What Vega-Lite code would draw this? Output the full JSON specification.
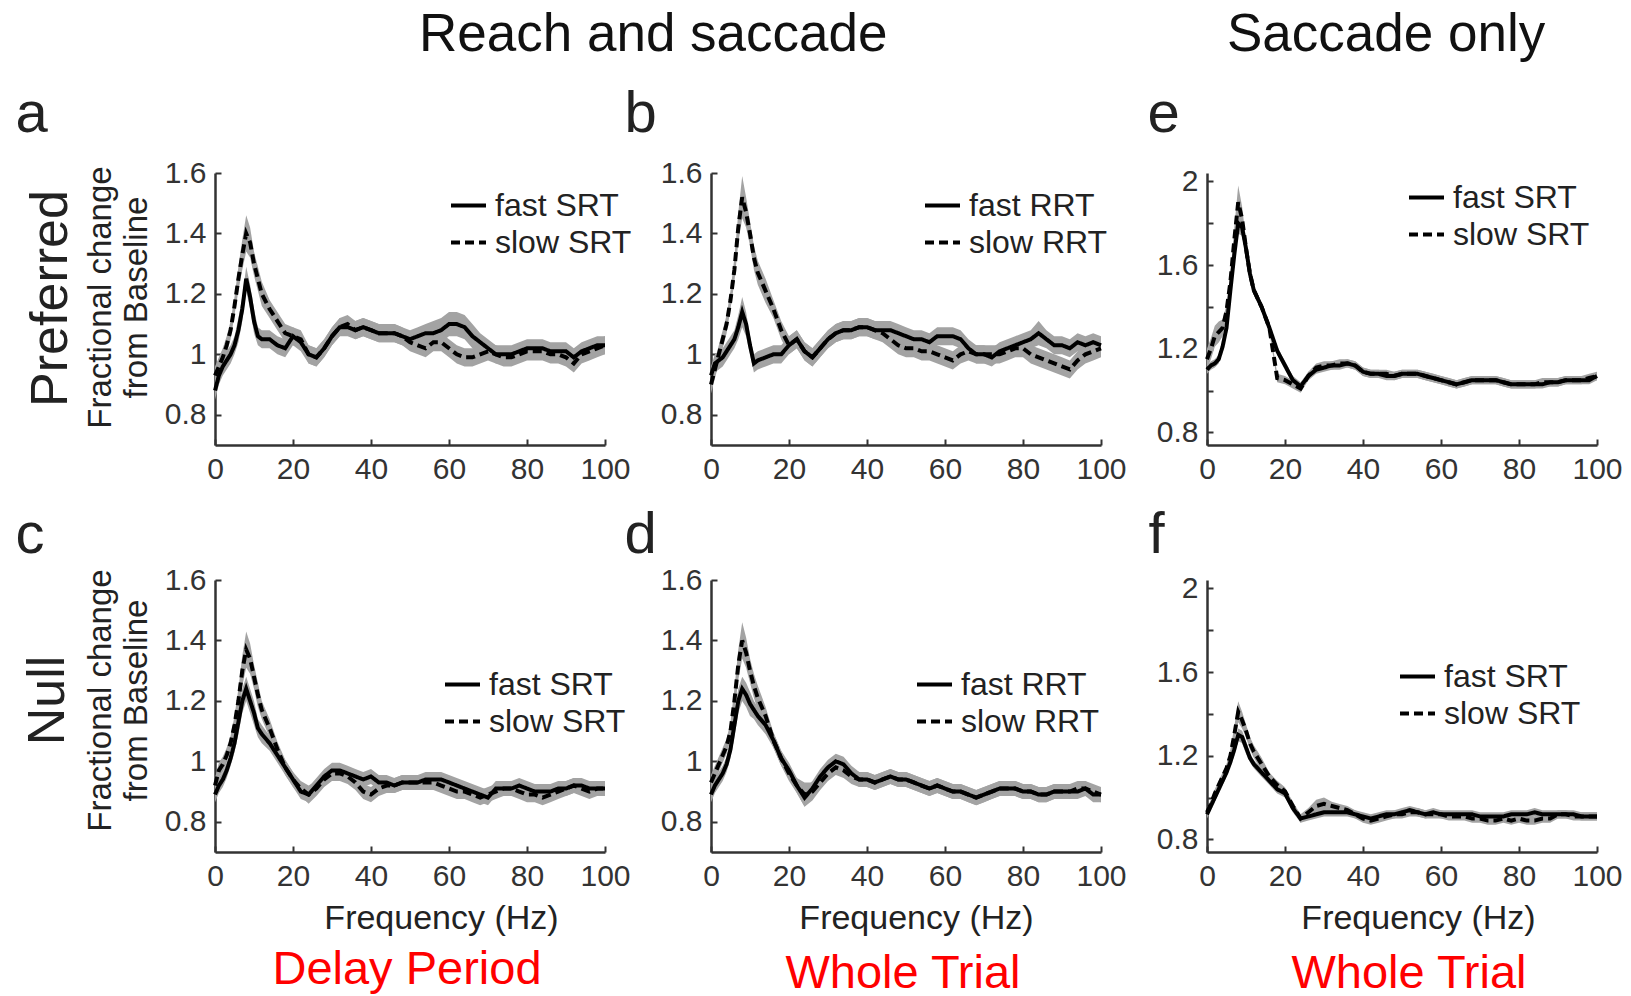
{
"$schema": "https://vega.github.io/schema/vega-lite/v6.json",
"background": "white",
"padding": {"left": 15, "top": 9, "right": 5, "bottom": 0},
"bounds": "flush",
"columns": 3,
"spacing": {"row": 135, "column": 106},
"resolve": {"scale": {"strokeDash": "independent"}},
"config": {
  "font": "Liberation Sans",
  "view": {"stroke": null},
  "axis": {"grid": false, "labelFont": "Liberation Sans", "labelFontSize": 30, "labelColor": "#333", "domainColor": "#333", "domainWidth": 2.5, "tickColor": "#333", "tickWidth": 2, "tickSize": -6, "labelPadding": 15, "titleFont": "Liberation Sans", "titleFontWeight": "normal", "titleColor": "#222", "labelFlush": false, "labelOverlap": false},
  "title": {"font": "Liberation Sans", "fontWeight": "normal", "color": "#111"},
  "legend": {"labelFont": "Liberation Sans", "labelFontSize": 32, "labelColor": "#222", "symbolType": "stroke", "symbolSize": 1225, "symbolStrokeWidth": 4, "symbolStrokeColor": "black", "labelOffset": 7, "rowPadding": 1, "padding": 0}
},
"datasets": {
"a": [
{"f":0,"F":0.88,"S":0.93,"eF":0.03,"eS":0.03},{"f":1,"F":0.93,"S":0.96,"eF":0.03,"eS":0.03},{"f":2,"F":0.96,"S":0.99,"eF":0.03,"eS":0.03},{"f":3,"F":0.98,"S":1.03,"eF":0.03,"eS":0.03},{"f":4,"F":1.00,"S":1.08,"eF":0.03,"eS":0.03},{"f":5,"F":1.03,"S":1.16,"eF":0.03,"eS":0.03},{"f":6,"F":1.08,"S":1.25,"eF":0.04,"eS":0.04},{"f":7,"F":1.15,"S":1.33,"eF":0.04,"eS":0.05},{"f":8,"F":1.25,"S":1.40,"eF":0.04,"eS":0.06},{"f":9,"F":1.19,"S":1.37,"eF":0.04,"eS":0.05},{"f":10,"F":1.11,"S":1.30,"eF":0.04,"eS":0.04},{"f":11,"F":1.06,"S":1.25,"eF":0.03,"eS":0.04},{"f":12,"F":1.05,"S":1.20,"eF":0.03,"eS":0.04},
{"f":14,"F":1.05,"S":1.15,"eF":0.03,"eS":0.03},{"f":16,"F":1.03,"S":1.11,"eF":0.03,"eS":0.03},{"f":18,"F":1.02,"S":1.07,"eF":0.03,"eS":0.03},{"f":20,"F":1.06,"S":1.06,"eF":0.03,"eS":0.03},{"f":22,"F":1.04,"S":1.05,"eF":0.03,"eS":0.03},{"f":24,"F":1.00,"S":1.00,"eF":0.03,"eS":0.03},{"f":26,"F":0.99,"S":0.99,"eF":0.03,"eS":0.03},{"f":28,"F":1.02,"S":1.02,"eF":0.03,"eS":0.03},{"f":30,"F":1.06,"S":1.06,"eF":0.03,"eS":0.03},{"f":32,"F":1.09,"S":1.09,"eF":0.03,"eS":0.03},{"f":34,"F":1.09,"S":1.10,"eF":0.03,"eS":0.03},{"f":36,"F":1.08,"S":1.08,"eF":0.03,"eS":0.03},{"f":38,"F":1.09,"S":1.09,"eF":0.03,"eS":0.03},{"f":40,"F":1.08,"S":1.08,"eF":0.03,"eS":0.03},{"f":42,"F":1.07,"S":1.07,"eF":0.03,"eS":0.03},{"f":44,"F":1.07,"S":1.07,"eF":0.03,"eS":0.03},{"f":46,"F":1.07,"S":1.07,"eF":0.03,"eS":0.03},{"f":48,"F":1.06,"S":1.06,"eF":0.03,"eS":0.03},{"f":50,"F":1.05,"S":1.04,"eF":0.03,"eS":0.03},{"f":52,"F":1.06,"S":1.03,"eF":0.03,"eS":0.03},{"f":54,"F":1.07,"S":1.02,"eF":0.03,"eS":0.03},{"f":56,"F":1.07,"S":1.04,"eF":0.04,"eS":0.03},{"f":58,"F":1.08,"S":1.04,"eF":0.04,"eS":0.03},{"f":60,"F":1.10,"S":1.02,"eF":0.04,"eS":0.03},{"f":62,"F":1.10,"S":1.00,"eF":0.04,"eS":0.03},{"f":64,"F":1.09,"S":0.99,"eF":0.04,"eS":0.03},{"f":66,"F":1.06,"S":0.99,"eF":0.04,"eS":0.03},{"f":68,"F":1.04,"S":1.00,"eF":0.03,"eS":0.03},{"f":70,"F":1.02,"S":1.01,"eF":0.03,"eS":0.03},{"f":72,"F":1.00,"S":1.00,"eF":0.03,"eS":0.03},{"f":74,"F":1.00,"S":0.99,"eF":0.03,"eS":0.03},{"f":76,"F":1.00,"S":0.99,"eF":0.03,"eS":0.03},{"f":78,"F":1.01,"S":1.00,"eF":0.03,"eS":0.03},{"f":80,"F":1.02,"S":1.01,"eF":0.03,"eS":0.03},{"f":82,"F":1.02,"S":1.01,"eF":0.03,"eS":0.03},{"f":84,"F":1.02,"S":1.01,"eF":0.03,"eS":0.03},{"f":86,"F":1.01,"S":1.00,"eF":0.03,"eS":0.03},{"f":88,"F":1.01,"S":1.00,"eF":0.03,"eS":0.03},{"f":90,"F":1.01,"S":0.99,"eF":0.03,"eS":0.03},{"f":92,"F":0.99,"S":0.97,"eF":0.03,"eS":0.03},{"f":94,"F":1.01,"S":1.00,"eF":0.03,"eS":0.03},{"f":96,"F":1.02,"S":1.01,"eF":0.03,"eS":0.03},{"f":98,"F":1.03,"S":1.02,"eF":0.03,"eS":0.03},{"f":100,"F":1.03,"S":1.03,"eF":0.03,"eS":0.03}
],
"b": [
{"f":0,"F":0.93,"S":0.90,"eF":0.03,"eS":0.03},{"f":1,"F":0.97,"S":0.95,"eF":0.03,"eS":0.03},{"f":2,"F":0.98,"S":1.00,"eF":0.03,"eS":0.03},{"f":3,"F":0.99,"S":1.05,"eF":0.03,"eS":0.03},{"f":4,"F":1.01,"S":1.10,"eF":0.03,"eS":0.03},{"f":5,"F":1.03,"S":1.18,"eF":0.03,"eS":0.03},{"f":6,"F":1.05,"S":1.28,"eF":0.03,"eS":0.04},{"f":7,"F":1.09,"S":1.42,"eF":0.04,"eS":0.05},{"f":8,"F":1.14,"S":1.52,"eF":0.05,"eS":0.07},{"f":9,"F":1.10,"S":1.47,"eF":0.04,"eS":0.05},{"f":10,"F":1.03,"S":1.40,"eF":0.03,"eS":0.04},{"f":11,"F":0.97,"S":1.32,"eF":0.03,"eS":0.04},{"f":12,"F":0.98,"S":1.27,"eF":0.03,"eS":0.04},
{"f":14,"F":0.99,"S":1.21,"eF":0.03,"eS":0.04},{"f":16,"F":1.00,"S":1.15,"eF":0.03,"eS":0.03},{"f":18,"F":1.00,"S":1.08,"eF":0.03,"eS":0.03},{"f":20,"F":1.03,"S":1.03,"eF":0.03,"eS":0.03},{"f":22,"F":1.05,"S":1.05,"eF":0.03,"eS":0.03},{"f":24,"F":1.01,"S":1.01,"eF":0.03,"eS":0.03},{"f":26,"F":0.99,"S":0.99,"eF":0.03,"eS":0.03},{"f":28,"F":1.02,"S":1.02,"eF":0.03,"eS":0.03},{"f":30,"F":1.05,"S":1.05,"eF":0.03,"eS":0.03},{"f":32,"F":1.07,"S":1.07,"eF":0.03,"eS":0.03},{"f":34,"F":1.08,"S":1.08,"eF":0.03,"eS":0.03},{"f":36,"F":1.08,"S":1.08,"eF":0.03,"eS":0.03},{"f":38,"F":1.09,"S":1.09,"eF":0.03,"eS":0.03},{"f":40,"F":1.09,"S":1.09,"eF":0.03,"eS":0.03},{"f":42,"F":1.08,"S":1.08,"eF":0.03,"eS":0.03},{"f":44,"F":1.08,"S":1.07,"eF":0.03,"eS":0.03},{"f":46,"F":1.08,"S":1.05,"eF":0.03,"eS":0.03},{"f":48,"F":1.07,"S":1.03,"eF":0.03,"eS":0.03},{"f":50,"F":1.06,"S":1.02,"eF":0.03,"eS":0.03},{"f":52,"F":1.05,"S":1.02,"eF":0.03,"eS":0.03},{"f":54,"F":1.05,"S":1.01,"eF":0.03,"eS":0.03},{"f":56,"F":1.04,"S":1.01,"eF":0.03,"eS":0.03},{"f":58,"F":1.06,"S":1.00,"eF":0.03,"eS":0.03},{"f":60,"F":1.06,"S":0.99,"eF":0.03,"eS":0.03},{"f":62,"F":1.06,"S":0.98,"eF":0.03,"eS":0.03},{"f":64,"F":1.05,"S":1.00,"eF":0.03,"eS":0.03},{"f":66,"F":1.02,"S":1.01,"eF":0.03,"eS":0.03},{"f":68,"F":1.00,"S":1.00,"eF":0.03,"eS":0.03},{"f":70,"F":1.00,"S":1.00,"eF":0.03,"eS":0.03},{"f":72,"F":0.99,"S":1.00,"eF":0.03,"eS":0.03},{"f":74,"F":1.01,"S":1.00,"eF":0.03,"eS":0.03},{"f":76,"F":1.02,"S":1.01,"eF":0.03,"eS":0.03},{"f":78,"F":1.03,"S":1.02,"eF":0.03,"eS":0.03},{"f":80,"F":1.04,"S":1.02,"eF":0.03,"eS":0.03},{"f":82,"F":1.05,"S":1.00,"eF":0.03,"eS":0.03},{"f":84,"F":1.07,"S":0.99,"eF":0.04,"eS":0.03},{"f":86,"F":1.05,"S":0.98,"eF":0.03,"eS":0.03},{"f":88,"F":1.03,"S":0.97,"eF":0.03,"eS":0.03},{"f":90,"F":1.03,"S":0.96,"eF":0.03,"eS":0.03},{"f":92,"F":1.02,"S":0.95,"eF":0.03,"eS":0.03},{"f":94,"F":1.04,"S":0.98,"eF":0.03,"eS":0.03},{"f":96,"F":1.03,"S":1.00,"eF":0.03,"eS":0.03},{"f":98,"F":1.04,"S":1.01,"eF":0.03,"eS":0.03},{"f":100,"F":1.03,"S":1.02,"eF":0.03,"eS":0.03}
],
"e": [
{"f":0,"F":1.10,"S":1.15,"eF":0.02,"eS":0.05},{"f":1,"F":1.12,"S":1.20,"eF":0.02,"eS":0.05},{"f":2,"F":1.13,"S":1.26,"eF":0.02,"eS":0.05},{"f":3,"F":1.15,"S":1.28,"eF":0.02,"eS":0.05},{"f":4,"F":1.21,"S":1.30,"eF":0.02,"eS":0.04},{"f":5,"F":1.30,"S":1.38,"eF":0.03,"eS":0.03},{"f":6,"F":1.48,"S":1.52,"eF":0.04,"eS":0.04},{"f":7,"F":1.65,"S":1.72,"eF":0.04,"eS":0.06},{"f":8,"F":1.80,"S":1.90,"eF":0.05,"eS":0.08},{"f":9,"F":1.78,"S":1.82,"eF":0.04,"eS":0.06},{"f":10,"F":1.68,"S":1.68,"eF":0.04,"eS":0.04},{"f":11,"F":1.56,"S":1.56,"eF":0.03,"eS":0.03},{"f":12,"F":1.48,"S":1.48,"eF":0.02,"eS":0.02},
{"f":14,"F":1.40,"S":1.40,"eF":0.02,"eS":0.02},{"f":16,"F":1.30,"S":1.30,"eF":0.02,"eS":0.02},{"f":18,"F":1.19,"S":1.06,"eF":0.02,"eS":0.02},{"f":20,"F":1.12,"S":1.05,"eF":0.02,"eS":0.02},{"f":22,"F":1.05,"S":1.03,"eF":0.02,"eS":0.02},{"f":24,"F":1.02,"S":1.01,"eF":0.02,"eS":0.02},{"f":26,"F":1.07,"S":1.07,"eF":0.02,"eS":0.02},{"f":28,"F":1.10,"S":1.11,"eF":0.02,"eS":0.02},{"f":30,"F":1.11,"S":1.12,"eF":0.02,"eS":0.02},{"f":32,"F":1.12,"S":1.12,"eF":0.02,"eS":0.02},{"f":34,"F":1.12,"S":1.13,"eF":0.02,"eS":0.02},{"f":36,"F":1.13,"S":1.13,"eF":0.02,"eS":0.02},{"f":38,"F":1.12,"S":1.12,"eF":0.02,"eS":0.02},{"f":40,"F":1.09,"S":1.09,"eF":0.02,"eS":0.02},{"f":42,"F":1.08,"S":1.08,"eF":0.02,"eS":0.02},{"f":44,"F":1.08,"S":1.08,"eF":0.02,"eS":0.02},{"f":46,"F":1.07,"S":1.08,"eF":0.02,"eS":0.02},{"f":48,"F":1.07,"S":1.07,"eF":0.02,"eS":0.02},{"f":50,"F":1.08,"S":1.08,"eF":0.02,"eS":0.02},{"f":52,"F":1.08,"S":1.08,"eF":0.02,"eS":0.02},{"f":54,"F":1.08,"S":1.08,"eF":0.02,"eS":0.02},{"f":56,"F":1.07,"S":1.07,"eF":0.02,"eS":0.02},{"f":58,"F":1.06,"S":1.06,"eF":0.02,"eS":0.02},{"f":60,"F":1.05,"S":1.05,"eF":0.02,"eS":0.02},{"f":62,"F":1.04,"S":1.04,"eF":0.02,"eS":0.02},{"f":64,"F":1.03,"S":1.03,"eF":0.02,"eS":0.02},{"f":66,"F":1.04,"S":1.04,"eF":0.02,"eS":0.02},{"f":68,"F":1.05,"S":1.05,"eF":0.02,"eS":0.02},{"f":70,"F":1.05,"S":1.05,"eF":0.02,"eS":0.02},{"f":72,"F":1.05,"S":1.05,"eF":0.02,"eS":0.02},{"f":74,"F":1.05,"S":1.05,"eF":0.02,"eS":0.02},{"f":76,"F":1.04,"S":1.04,"eF":0.02,"eS":0.02},{"f":78,"F":1.03,"S":1.03,"eF":0.02,"eS":0.02},{"f":80,"F":1.03,"S":1.03,"eF":0.02,"eS":0.02},{"f":82,"F":1.03,"S":1.03,"eF":0.02,"eS":0.02},{"f":84,"F":1.03,"S":1.03,"eF":0.02,"eS":0.02},{"f":86,"F":1.03,"S":1.04,"eF":0.02,"eS":0.02},{"f":88,"F":1.04,"S":1.04,"eF":0.02,"eS":0.02},{"f":90,"F":1.04,"S":1.04,"eF":0.02,"eS":0.02},{"f":92,"F":1.05,"S":1.05,"eF":0.02,"eS":0.02},{"f":94,"F":1.05,"S":1.05,"eF":0.02,"eS":0.02},{"f":96,"F":1.05,"S":1.05,"eF":0.02,"eS":0.02},{"f":98,"F":1.05,"S":1.06,"eF":0.02,"eS":0.02},{"f":100,"F":1.07,"S":1.07,"eF":0.02,"eS":0.02}
],
"c": [
{"f":0,"F":0.89,"S":0.92,"eF":0.025,"eS":0.025},{"f":1,"F":0.92,"S":0.97,"eF":0.025,"eS":0.025},{"f":2,"F":0.94,"S":0.99,"eF":0.025,"eS":0.025},{"f":3,"F":0.97,"S":1.02,"eF":0.025,"eS":0.025},{"f":4,"F":1.01,"S":1.06,"eF":0.025,"eS":0.025},{"f":5,"F":1.06,"S":1.12,"eF":0.03,"eS":0.03},{"f":6,"F":1.13,"S":1.20,"eF":0.04,"eS":0.04},{"f":7,"F":1.20,"S":1.30,"eF":0.04,"eS":0.05},{"f":8,"F":1.24,"S":1.37,"eF":0.04,"eS":0.06},{"f":9,"F":1.20,"S":1.34,"eF":0.04,"eS":0.05},{"f":10,"F":1.16,"S":1.28,"eF":0.04,"eS":0.04},{"f":11,"F":1.11,"S":1.22,"eF":0.03,"eS":0.04},{"f":12,"F":1.09,"S":1.17,"eF":0.03,"eS":0.03},
{"f":14,"F":1.06,"S":1.11,"eF":0.025,"eS":0.03},{"f":16,"F":1.02,"S":1.04,"eF":0.025,"eS":0.025},{"f":18,"F":0.98,"S":0.98,"eF":0.025,"eS":0.025},{"f":20,"F":0.94,"S":0.94,"eF":0.025,"eS":0.025},{"f":22,"F":0.90,"S":0.91,"eF":0.025,"eS":0.025},{"f":24,"F":0.89,"S":0.89,"eF":0.025,"eS":0.03},{"f":26,"F":0.92,"S":0.91,"eF":0.025,"eS":0.025},{"f":28,"F":0.95,"S":0.94,"eF":0.025,"eS":0.025},{"f":30,"F":0.97,"S":0.96,"eF":0.025,"eS":0.025},{"f":32,"F":0.97,"S":0.96,"eF":0.025,"eS":0.025},{"f":34,"F":0.96,"S":0.95,"eF":0.025,"eS":0.025},{"f":36,"F":0.95,"S":0.93,"eF":0.025,"eS":0.025},{"f":38,"F":0.94,"S":0.90,"eF":0.025,"eS":0.025},{"f":40,"F":0.95,"S":0.89,"eF":0.025,"eS":0.025},{"f":42,"F":0.93,"S":0.91,"eF":0.025,"eS":0.025},{"f":44,"F":0.93,"S":0.92,"eF":0.025,"eS":0.025},{"f":46,"F":0.92,"S":0.92,"eF":0.025,"eS":0.025},{"f":48,"F":0.93,"S":0.93,"eF":0.025,"eS":0.025},{"f":50,"F":0.93,"S":0.93,"eF":0.025,"eS":0.025},{"f":52,"F":0.93,"S":0.93,"eF":0.025,"eS":0.025},{"f":54,"F":0.94,"S":0.93,"eF":0.025,"eS":0.025},{"f":56,"F":0.94,"S":0.93,"eF":0.025,"eS":0.025},{"f":58,"F":0.94,"S":0.92,"eF":0.025,"eS":0.025},{"f":60,"F":0.93,"S":0.91,"eF":0.025,"eS":0.025},{"f":62,"F":0.92,"S":0.90,"eF":0.025,"eS":0.025},{"f":64,"F":0.91,"S":0.90,"eF":0.025,"eS":0.025},{"f":66,"F":0.90,"S":0.89,"eF":0.025,"eS":0.025},{"f":68,"F":0.89,"S":0.88,"eF":0.025,"eS":0.025},{"f":70,"F":0.88,"S":0.89,"eF":0.025,"eS":0.025},{"f":72,"F":0.91,"S":0.90,"eF":0.025,"eS":0.025},{"f":74,"F":0.91,"S":0.91,"eF":0.025,"eS":0.025},{"f":76,"F":0.91,"S":0.91,"eF":0.025,"eS":0.025},{"f":78,"F":0.92,"S":0.90,"eF":0.025,"eS":0.025},{"f":80,"F":0.91,"S":0.89,"eF":0.025,"eS":0.025},{"f":82,"F":0.90,"S":0.89,"eF":0.025,"eS":0.025},{"f":84,"F":0.90,"S":0.88,"eF":0.025,"eS":0.025},{"f":86,"F":0.90,"S":0.89,"eF":0.025,"eS":0.025},{"f":88,"F":0.91,"S":0.90,"eF":0.025,"eS":0.025},{"f":90,"F":0.91,"S":0.91,"eF":0.025,"eS":0.025},{"f":92,"F":0.92,"S":0.92,"eF":0.025,"eS":0.025},{"f":94,"F":0.92,"S":0.91,"eF":0.025,"eS":0.025},{"f":96,"F":0.91,"S":0.90,"eF":0.025,"eS":0.025},{"f":98,"F":0.91,"S":0.91,"eF":0.025,"eS":0.025},{"f":100,"F":0.91,"S":0.91,"eF":0.025,"eS":0.025}
],
"d": [
{"f":0,"F":0.89,"S":0.93,"eF":0.025,"eS":0.025},{"f":1,"F":0.92,"S":0.96,"eF":0.025,"eS":0.025},{"f":2,"F":0.94,"S":0.99,"eF":0.025,"eS":0.025},{"f":3,"F":0.96,"S":1.02,"eF":0.025,"eS":0.025},{"f":4,"F":0.99,"S":1.05,"eF":0.025,"eS":0.025},{"f":5,"F":1.04,"S":1.10,"eF":0.03,"eS":0.03},{"f":6,"F":1.12,"S":1.20,"eF":0.04,"eS":0.04},{"f":7,"F":1.20,"S":1.32,"eF":0.04,"eS":0.05},{"f":8,"F":1.24,"S":1.40,"eF":0.04,"eS":0.06},{"f":9,"F":1.22,"S":1.36,"eF":0.04,"eS":0.05},{"f":10,"F":1.19,"S":1.30,"eF":0.04,"eS":0.04},{"f":11,"F":1.17,"S":1.25,"eF":0.03,"eS":0.04},{"f":12,"F":1.15,"S":1.21,"eF":0.03,"eS":0.04},
{"f":14,"F":1.12,"S":1.15,"eF":0.03,"eS":0.03},{"f":16,"F":1.07,"S":1.07,"eF":0.025,"eS":0.025},{"f":18,"F":1.01,"S":1.01,"eF":0.025,"eS":0.025},{"f":20,"F":0.97,"S":0.96,"eF":0.025,"eS":0.025},{"f":22,"F":0.92,"S":0.92,"eF":0.025,"eS":0.025},{"f":24,"F":0.88,"S":0.89,"eF":0.03,"eS":0.04},{"f":26,"F":0.91,"S":0.90,"eF":0.025,"eS":0.03},{"f":28,"F":0.95,"S":0.93,"eF":0.025,"eS":0.025},{"f":30,"F":0.98,"S":0.96,"eF":0.025,"eS":0.025},{"f":32,"F":1.00,"S":0.98,"eF":0.025,"eS":0.025},{"f":34,"F":0.99,"S":0.97,"eF":0.025,"eS":0.025},{"f":36,"F":0.96,"S":0.95,"eF":0.025,"eS":0.025},{"f":38,"F":0.94,"S":0.94,"eF":0.025,"eS":0.025},{"f":40,"F":0.94,"S":0.94,"eF":0.025,"eS":0.025},{"f":42,"F":0.93,"S":0.93,"eF":0.025,"eS":0.025},{"f":44,"F":0.94,"S":0.94,"eF":0.025,"eS":0.025},{"f":46,"F":0.95,"S":0.95,"eF":0.025,"eS":0.025},{"f":48,"F":0.94,"S":0.94,"eF":0.025,"eS":0.025},{"f":50,"F":0.94,"S":0.94,"eF":0.025,"eS":0.025},{"f":52,"F":0.93,"S":0.93,"eF":0.025,"eS":0.025},{"f":54,"F":0.92,"S":0.92,"eF":0.025,"eS":0.025},{"f":56,"F":0.91,"S":0.91,"eF":0.025,"eS":0.025},{"f":58,"F":0.92,"S":0.92,"eF":0.025,"eS":0.025},{"f":60,"F":0.91,"S":0.91,"eF":0.025,"eS":0.025},{"f":62,"F":0.90,"S":0.90,"eF":0.025,"eS":0.025},{"f":64,"F":0.90,"S":0.90,"eF":0.025,"eS":0.025},{"f":66,"F":0.89,"S":0.89,"eF":0.025,"eS":0.025},{"f":68,"F":0.88,"S":0.88,"eF":0.025,"eS":0.025},{"f":70,"F":0.89,"S":0.89,"eF":0.025,"eS":0.025},{"f":72,"F":0.90,"S":0.90,"eF":0.025,"eS":0.025},{"f":74,"F":0.91,"S":0.91,"eF":0.025,"eS":0.025},{"f":76,"F":0.91,"S":0.91,"eF":0.025,"eS":0.025},{"f":78,"F":0.91,"S":0.91,"eF":0.025,"eS":0.025},{"f":80,"F":0.90,"S":0.90,"eF":0.025,"eS":0.025},{"f":82,"F":0.90,"S":0.90,"eF":0.025,"eS":0.025},{"f":84,"F":0.89,"S":0.89,"eF":0.025,"eS":0.025},{"f":86,"F":0.89,"S":0.89,"eF":0.025,"eS":0.025},{"f":88,"F":0.90,"S":0.90,"eF":0.025,"eS":0.025},{"f":90,"F":0.90,"S":0.90,"eF":0.025,"eS":0.025},{"f":92,"F":0.90,"S":0.90,"eF":0.025,"eS":0.025},{"f":94,"F":0.90,"S":0.91,"eF":0.025,"eS":0.025},{"f":96,"F":0.91,"S":0.91,"eF":0.025,"eS":0.025},{"f":98,"F":0.89,"S":0.90,"eF":0.025,"eS":0.025},{"f":100,"F":0.89,"S":0.89,"eF":0.025,"eS":0.025}
],
"f": [
{"f":0,"F":0.92,"S":0.93,"eF":0.02,"eS":0.02},{"f":1,"F":0.96,"S":0.97,"eF":0.02,"eS":0.02},{"f":2,"F":1.00,"S":1.02,"eF":0.02,"eS":0.02},{"f":3,"F":1.04,"S":1.06,"eF":0.02,"eS":0.02},{"f":4,"F":1.08,"S":1.10,"eF":0.02,"eS":0.02},{"f":5,"F":1.12,"S":1.14,"eF":0.02,"eS":0.02},{"f":6,"F":1.17,"S":1.20,"eF":0.02,"eS":0.03},{"f":7,"F":1.23,"S":1.30,"eF":0.03,"eS":0.04},{"f":8,"F":1.30,"S":1.41,"eF":0.03,"eS":0.05},{"f":9,"F":1.29,"S":1.37,"eF":0.03,"eS":0.04},{"f":10,"F":1.24,"S":1.32,"eF":0.03,"eS":0.03},{"f":11,"F":1.19,"S":1.26,"eF":0.02,"eS":0.03},{"f":12,"F":1.16,"S":1.22,"eF":0.02,"eS":0.03},
{"f":14,"F":1.12,"S":1.16,"eF":0.02,"eS":0.03},{"f":16,"F":1.08,"S":1.10,"eF":0.02,"eS":0.02},{"f":18,"F":1.04,"S":1.06,"eF":0.02,"eS":0.02},{"f":20,"F":1.02,"S":1.03,"eF":0.02,"eS":0.02},{"f":22,"F":0.95,"S":0.96,"eF":0.02,"eS":0.02},{"f":24,"F":0.90,"S":0.90,"eF":0.02,"eS":0.02},{"f":26,"F":0.91,"S":0.93,"eF":0.02,"eS":0.02},{"f":28,"F":0.92,"S":0.96,"eF":0.02,"eS":0.03},{"f":30,"F":0.93,"S":0.97,"eF":0.02,"eS":0.03},{"f":32,"F":0.93,"S":0.96,"eF":0.02,"eS":0.02},{"f":34,"F":0.93,"S":0.95,"eF":0.02,"eS":0.02},{"f":36,"F":0.93,"S":0.94,"eF":0.02,"eS":0.02},{"f":38,"F":0.92,"S":0.92,"eF":0.02,"eS":0.02},{"f":40,"F":0.91,"S":0.90,"eF":0.02,"eS":0.02},{"f":42,"F":0.90,"S":0.89,"eF":0.02,"eS":0.02},{"f":44,"F":0.91,"S":0.90,"eF":0.02,"eS":0.02},{"f":46,"F":0.92,"S":0.91,"eF":0.02,"eS":0.02},{"f":48,"F":0.92,"S":0.92,"eF":0.02,"eS":0.02},{"f":50,"F":0.93,"S":0.92,"eF":0.02,"eS":0.02},{"f":52,"F":0.94,"S":0.93,"eF":0.02,"eS":0.02},{"f":54,"F":0.93,"S":0.93,"eF":0.02,"eS":0.02},{"f":56,"F":0.92,"S":0.92,"eF":0.02,"eS":0.02},{"f":58,"F":0.93,"S":0.92,"eF":0.02,"eS":0.02},{"f":60,"F":0.92,"S":0.92,"eF":0.02,"eS":0.02},{"f":62,"F":0.92,"S":0.91,"eF":0.02,"eS":0.02},{"f":64,"F":0.92,"S":0.91,"eF":0.02,"eS":0.02},{"f":66,"F":0.92,"S":0.91,"eF":0.02,"eS":0.02},{"f":68,"F":0.92,"S":0.90,"eF":0.02,"eS":0.02},{"f":70,"F":0.91,"S":0.90,"eF":0.02,"eS":0.02},{"f":72,"F":0.91,"S":0.89,"eF":0.02,"eS":0.02},{"f":74,"F":0.91,"S":0.89,"eF":0.02,"eS":0.02},{"f":76,"F":0.91,"S":0.90,"eF":0.02,"eS":0.02},{"f":78,"F":0.92,"S":0.89,"eF":0.02,"eS":0.02},{"f":80,"F":0.92,"S":0.90,"eF":0.02,"eS":0.02},{"f":82,"F":0.92,"S":0.89,"eF":0.02,"eS":0.02},{"f":84,"F":0.93,"S":0.89,"eF":0.02,"eS":0.02},{"f":86,"F":0.92,"S":0.90,"eF":0.02,"eS":0.02},{"f":88,"F":0.92,"S":0.90,"eF":0.02,"eS":0.02},{"f":90,"F":0.92,"S":0.92,"eF":0.02,"eS":0.02},{"f":92,"F":0.92,"S":0.92,"eF":0.02,"eS":0.02},{"f":94,"F":0.92,"S":0.91,"eF":0.02,"eS":0.02},{"f":96,"F":0.91,"S":0.91,"eF":0.02,"eS":0.02},{"f":98,"F":0.91,"S":0.91,"eF":0.02,"eS":0.02},{"f":100,"F":0.91,"S":0.91,"eF":0.02,"eS":0.02}
]
},
"concat": [
{
 "width": 390, "height": 272, "data": {"name": "a"},
 "title": {"text": "Reach and saccade", "anchor": "start", "frame": "group", "dx": 204, "offset": -19, "baseline": "alphabetic", "fontSize": 53},
 "layer": [
  {"mark": {"type": "errorband", "band": {"color": "#a3a3a3", "opacity": 1}}, "encoding": {"x": {"field": "f", "type": "quantitative", "scale": {"domain": [0, 100], "nice": false}, "axis": null}, "y": {"field": "F", "type": "quantitative", "scale": {"domain": [0.7, 1.6], "nice": false, "zero": false}, "axis": null}, "yError": {"field": "eF"}}},
  {"mark": {"type": "errorband", "band": {"color": "#a3a3a3", "opacity": 1}}, "encoding": {"x": {"field": "f", "type": "quantitative", "axis": null}, "y": {"field": "S", "type": "quantitative", "axis": null}, "yError": {"field": "eS"}}},
  {"mark": {"type": "line", "color": "black", "strokeWidth": 4}, "encoding": {
    "x": {"field": "f", "type": "quantitative", "axis": {"values": [0, 20, 40, 60, 80, 100], "title": null}},
    "y": {"field": "F", "type": "quantitative", "axis": {"values": [0.8, 1, 1.2, 1.4, 1.6], "format": "~g", "title": ["Fractional change", "from Baseline"], "titleFontSize": 33, "titleLineHeight": 36, "titleX": -115, "titleY": 124, "titleBaseline": "middle", "titleAlign": "center"}},
    "strokeDash": {"datum": "fast SRT", "type": "nominal", "scale": {"domain": ["fast SRT", "slow SRT"], "range": [[1, 0], [9, 5]]}, "legend": {"orient": "none", "legendX": 234, "legendY": 13, "title": null}}}},
  {"mark": {"type": "line", "color": "black", "strokeWidth": 4}, "encoding": {
    "x": {"field": "f", "type": "quantitative", "axis": {"orient": "top", "labels": false, "ticks": false, "domain": false, "title": "a", "titleFontSize": 58, "titleX": -200, "titleY": -42, "titleAlign": "left", "titleBaseline": "alphabetic", "titleAngle": 0}},
    "y": {"field": "S", "type": "quantitative", "axis": {"orient": "left", "labels": false, "ticks": false, "domain": false, "title": "Preferred", "titleFontSize": 52, "titleX": -165, "titleY": 125, "titleBaseline": "middle", "titleAlign": "center"}},
    "strokeDash": {"datum": "slow SRT", "type": "nominal"}}}
 ],
 "resolve": {"axis": {"x": "independent", "y": "independent"}}
},
{
 "width": 390, "height": 272, "data": {"name": "b"},
 "layer": [
  {"mark": {"type": "errorband", "band": {"color": "#a3a3a3", "opacity": 1}}, "encoding": {"x": {"field": "f", "type": "quantitative", "scale": {"domain": [0, 100], "nice": false}, "axis": null}, "y": {"field": "F", "type": "quantitative", "scale": {"domain": [0.7, 1.6], "nice": false, "zero": false}, "axis": null}, "yError": {"field": "eF"}}},
  {"mark": {"type": "errorband", "band": {"color": "#a3a3a3", "opacity": 1}}, "encoding": {"x": {"field": "f", "type": "quantitative", "axis": null}, "y": {"field": "S", "type": "quantitative", "axis": null}, "yError": {"field": "eS"}}},
  {"mark": {"type": "line", "color": "black", "strokeWidth": 4}, "encoding": {
    "x": {"field": "f", "type": "quantitative", "axis": {"values": [0, 20, 40, 60, 80, 100], "title": null}},
    "y": {"field": "F", "type": "quantitative", "axis": {"values": [0.8, 1, 1.2, 1.4, 1.6], "format": "~g", "title": null}},
    "strokeDash": {"datum": "fast RRT", "type": "nominal", "scale": {"domain": ["fast RRT", "slow RRT"], "range": [[1, 0], [9, 5]]}, "legend": {"orient": "none", "legendX": 212, "legendY": 13, "title": null}}}},
  {"mark": {"type": "line", "color": "black", "strokeWidth": 4}, "encoding": {
    "x": {"field": "f", "type": "quantitative", "axis": {"orient": "top", "labels": false, "ticks": false, "domain": false, "title": "b", "titleFontSize": 58, "titleX": -87, "titleY": -42, "titleAlign": "left", "titleBaseline": "alphabetic", "titleAngle": 0}},
    "y": {"field": "S", "type": "quantitative", "axis": null},
    "strokeDash": {"datum": "slow RRT", "type": "nominal"}}}
 ],
 "resolve": {"axis": {"x": "independent", "y": "independent"}}
},
{
 "width": 390, "height": 272, "data": {"name": "e"},
 "title": {"text": "Saccade only", "anchor": "start", "frame": "group", "dx": 20, "offset": -19, "baseline": "alphabetic", "fontSize": 53},
 "layer": [
  {"mark": {"type": "errorband", "band": {"color": "#a3a3a3", "opacity": 1}}, "encoding": {"x": {"field": "f", "type": "quantitative", "scale": {"domain": [0, 100], "nice": false}, "axis": null}, "y": {"field": "F", "type": "quantitative", "scale": {"domain": [0.74, 2.04], "nice": false, "zero": false}, "axis": null}, "yError": {"field": "eF"}}},
  {"mark": {"type": "errorband", "band": {"color": "#a3a3a3", "opacity": 1}}, "encoding": {"x": {"field": "f", "type": "quantitative", "axis": null}, "y": {"field": "S", "type": "quantitative", "axis": null}, "yError": {"field": "eS"}}},
  {"mark": {"type": "line", "color": "black", "strokeWidth": 4}, "encoding": {
    "x": {"field": "f", "type": "quantitative", "axis": {"values": [0, 20, 40, 60, 80, 100], "title": null}},
    "y": {"field": "F", "type": "quantitative", "axis": {"values": [0.8, 1, 1.2, 1.4, 1.6, 1.8, 2], "labelExpr": "indexof(['0.8','1.2','1.6','2'], format(datum.value, '~g')) >= 0 ? format(datum.value, '~g') : ''", "title": null}},
    "strokeDash": {"datum": "fast SRT", "type": "nominal", "scale": {"domain": ["fast SRT", "slow SRT"], "range": [[1, 0], [9, 5]]}, "legend": {"orient": "none", "legendX": 200, "legendY": 5, "title": null}}}},
  {"mark": {"type": "line", "color": "black", "strokeWidth": 4}, "encoding": {
    "x": {"field": "f", "type": "quantitative", "axis": {"orient": "top", "labels": false, "ticks": false, "domain": false, "title": "e", "titleFontSize": 58, "titleX": -60, "titleY": -42, "titleAlign": "left", "titleBaseline": "alphabetic", "titleAngle": 0}},
    "y": {"field": "S", "type": "quantitative", "axis": null},
    "strokeDash": {"datum": "slow SRT", "type": "nominal"}}}
 ],
 "resolve": {"axis": {"x": "independent", "y": "independent"}}
},
{
 "width": 390, "height": 272, "data": {"name": "c"},
 "title": {"text": "Delay Period", "orient": "bottom", "anchor": "middle", "frame": "group", "dx": -3, "offset": 12, "color": "#ff0000", "fontSize": 47},
 "layer": [
  {"mark": {"type": "errorband", "band": {"color": "#a3a3a3", "opacity": 1}}, "encoding": {"x": {"field": "f", "type": "quantitative", "scale": {"domain": [0, 100], "nice": false}, "axis": null}, "y": {"field": "F", "type": "quantitative", "scale": {"domain": [0.7, 1.6], "nice": false, "zero": false}, "axis": null}, "yError": {"field": "eF"}}},
  {"mark": {"type": "errorband", "band": {"color": "#a3a3a3", "opacity": 1}}, "encoding": {"x": {"field": "f", "type": "quantitative", "axis": null}, "y": {"field": "S", "type": "quantitative", "axis": null}, "yError": {"field": "eS"}}},
  {"mark": {"type": "line", "color": "black", "strokeWidth": 4}, "encoding": {
    "x": {"field": "f", "type": "quantitative", "axis": {"values": [0, 20, 40, 60, 80, 100], "title": "Frequency (Hz)", "titleFontSize": 34, "titlePadding": 10, "titleX": 226}},
    "y": {"field": "F", "type": "quantitative", "axis": {"values": [0.8, 1, 1.2, 1.4, 1.6], "format": "~g", "title": ["Fractional change", "from Baseline"], "titleFontSize": 33, "titleLineHeight": 36, "titleX": -115, "titleY": 120, "titleBaseline": "middle", "titleAlign": "center"}},
    "strokeDash": {"datum": "fast SRT", "type": "nominal", "scale": {"domain": ["fast SRT", "slow SRT"], "range": [[1, 0], [9, 5]]}, "legend": {"orient": "none", "legendX": 228, "legendY": 85, "title": null}}}},
  {"mark": {"type": "line", "color": "black", "strokeWidth": 4}, "encoding": {
    "x": {"field": "f", "type": "quantitative", "axis": {"orient": "top", "labels": false, "ticks": false, "domain": false, "title": "c", "titleFontSize": 58, "titleX": -200, "titleY": -28, "titleAlign": "left", "titleBaseline": "alphabetic", "titleAngle": 0}},
    "y": {"field": "S", "type": "quantitative", "axis": {"orient": "left", "labels": false, "ticks": false, "domain": false, "title": "Null", "titleFontSize": 52, "titleX": -168, "titleY": 120, "titleBaseline": "middle", "titleAlign": "center"}},
    "strokeDash": {"datum": "slow SRT", "type": "nominal"}}}
 ],
 "resolve": {"axis": {"x": "independent", "y": "independent"}}
},
{
 "width": 390, "height": 272, "data": {"name": "d"},
 "title": {"text": "Whole Trial", "orient": "bottom", "anchor": "middle", "frame": "group", "dx": -3, "offset": 16, "color": "#ff0000", "fontSize": 47},
 "layer": [
  {"mark": {"type": "errorband", "band": {"color": "#a3a3a3", "opacity": 1}}, "encoding": {"x": {"field": "f", "type": "quantitative", "scale": {"domain": [0, 100], "nice": false}, "axis": null}, "y": {"field": "F", "type": "quantitative", "scale": {"domain": [0.7, 1.6], "nice": false, "zero": false}, "axis": null}, "yError": {"field": "eF"}}},
  {"mark": {"type": "errorband", "band": {"color": "#a3a3a3", "opacity": 1}}, "encoding": {"x": {"field": "f", "type": "quantitative", "axis": null}, "y": {"field": "S", "type": "quantitative", "axis": null}, "yError": {"field": "eS"}}},
  {"mark": {"type": "line", "color": "black", "strokeWidth": 4}, "encoding": {
    "x": {"field": "f", "type": "quantitative", "axis": {"values": [0, 20, 40, 60, 80, 100], "title": "Frequency (Hz)", "titleFontSize": 34, "titlePadding": 10, "titleX": 205}},
    "y": {"field": "F", "type": "quantitative", "axis": {"values": [0.8, 1, 1.2, 1.4, 1.6], "format": "~g", "title": null}},
    "strokeDash": {"datum": "fast RRT", "type": "nominal", "scale": {"domain": ["fast RRT", "slow RRT"], "range": [[1, 0], [9, 5]]}, "legend": {"orient": "none", "legendX": 204, "legendY": 85, "title": null}}}},
  {"mark": {"type": "line", "color": "black", "strokeWidth": 4}, "encoding": {
    "x": {"field": "f", "type": "quantitative", "axis": {"orient": "top", "labels": false, "ticks": false, "domain": false, "title": "d", "titleFontSize": 58, "titleX": -87, "titleY": -28, "titleAlign": "left", "titleBaseline": "alphabetic", "titleAngle": 0}},
    "y": {"field": "S", "type": "quantitative", "axis": null},
    "strokeDash": {"datum": "slow RRT", "type": "nominal"}}}
 ],
 "resolve": {"axis": {"x": "independent", "y": "independent"}}
},
{
 "width": 390, "height": 272, "data": {"name": "f"},
 "title": {"text": "Whole Trial", "orient": "bottom", "anchor": "middle", "frame": "group", "dx": 7, "offset": 16, "color": "#ff0000", "fontSize": 47},
 "layer": [
  {"mark": {"type": "errorband", "band": {"color": "#a3a3a3", "opacity": 1}}, "encoding": {"x": {"field": "f", "type": "quantitative", "scale": {"domain": [0, 100], "nice": false}, "axis": null}, "y": {"field": "F", "type": "quantitative", "scale": {"domain": [0.74, 2.04], "nice": false, "zero": false}, "axis": null}, "yError": {"field": "eF"}}},
  {"mark": {"type": "errorband", "band": {"color": "#a3a3a3", "opacity": 1}}, "encoding": {"x": {"field": "f", "type": "quantitative", "axis": null}, "y": {"field": "S", "type": "quantitative", "axis": null}, "yError": {"field": "eS"}}},
  {"mark": {"type": "line", "color": "black", "strokeWidth": 4}, "encoding": {
    "x": {"field": "f", "type": "quantitative", "axis": {"values": [0, 20, 40, 60, 80, 100], "title": "Frequency (Hz)", "titleFontSize": 34, "titlePadding": 10, "titleX": 211}},
    "y": {"field": "F", "type": "quantitative", "axis": {"values": [0.8, 1, 1.2, 1.4, 1.6, 1.8, 2], "labelExpr": "indexof(['0.8','1.2','1.6','2'], format(datum.value, '~g')) >= 0 ? format(datum.value, '~g') : ''", "title": null}},
    "strokeDash": {"datum": "fast SRT", "type": "nominal", "scale": {"domain": ["fast SRT", "slow SRT"], "range": [[1, 0], [9, 5]]}, "legend": {"orient": "none", "legendX": 191, "legendY": 77, "title": null}}}},
  {"mark": {"type": "line", "color": "black", "strokeWidth": 4}, "encoding": {
    "x": {"field": "f", "type": "quantitative", "axis": {"orient": "top", "labels": false, "ticks": false, "domain": false, "title": "f", "titleFontSize": 58, "titleX": -59, "titleY": -28, "titleAlign": "left", "titleBaseline": "alphabetic", "titleAngle": 0}},
    "y": {"field": "S", "type": "quantitative", "axis": null},
    "strokeDash": {"datum": "slow SRT", "type": "nominal"}}}
 ],
 "resolve": {"axis": {"x": "independent", "y": "independent"}}
}
]
}
